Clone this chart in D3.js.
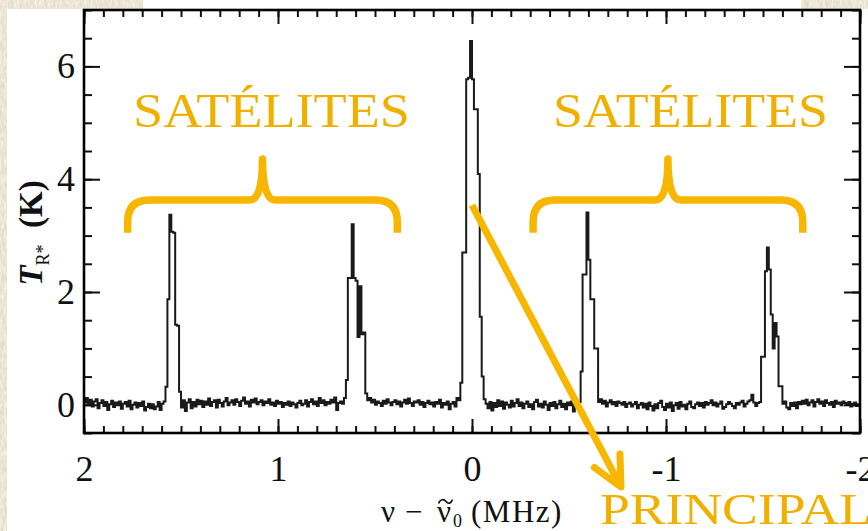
<!DOCTYPE html>
<html>
<head>
<meta charset="utf-8">
<script src="https://cdn.jsdelivr.net/npm/d3@7"></script>
<style>
  html, body { margin: 0; padding: 0; background: #fff; }
  svg { display: block; }
</style>
</head>
<body>
<svg id="chart" width="868" height="531"></svg>
<script>
// Spectrometer channel grid (offset from the line rest frequency, MHz)
const channelStart = 1.995;
const channelWidth = 0.01;

// Antenna temperature per channel (K), 400 channels from +2 to -2 MHz
const antennaTempK = [
  0.04, 0.12, 0.02, 0.09, -0.03, 0.06, 0.10, -0.06, 0.03, 0.08, -0.02, 0.05, -0.09, 0.01, 0.07, -0.04, 0.04, -0.01, 0.06, -0.07,
  0.02, 0.05, -0.03, 0.07, -0.08, 0.00, 0.04, -0.05, 0.03, -0.02, 0.06, -0.10, -0.04, 0.02, -0.06, 0.01, -0.08, -0.03, 0.05, -0.09,
  0.02, 0.06, 0.32, 1.87, 3.37, 3.07, 3.05, 1.42, 1.40, 0.23, -0.05, 0.08, -0.11, 0.04, 0.10, -0.06, 0.05, -0.03, 0.09, 0.01,
  0.07, -0.04, 0.06, 0.00, 0.11, -0.02, 0.05, 0.08, -0.05, 0.09, 0.03, -0.03, 0.06, 0.12, -0.01, 0.04, 0.08, 0.00, 0.10, 0.05,
  -0.02, 0.07, 0.13, 0.02, 0.06, -0.03, 0.09, 0.04, 0.11, 0.01, 0.05, 0.08, -0.01, 0.06, 0.03, 0.10, 0.00, 0.04, -0.02, 0.07,
  0.02, 0.05, -0.04, 0.03, 0.00, 0.06, -0.02, 0.04, 0.01, -0.05, 0.03, 0.07, -0.01, 0.02, 0.08, -0.03, 0.05, 0.10, 0.01, 0.06,
  -0.02, 0.12, 0.03, 0.08, -0.01, 0.05, 0.02, 0.09, 0.04, 0.13, -0.09, 0.03, 0.06, 0.02, 0.12, 0.44, 2.25, 2.25, 3.20, 2.25,
  2.20, 1.20, 2.10, 1.25, 1.28, 0.20, 0.08, 0.12, 0.04, 0.09, 0.00, 0.06, 0.03, -0.02, 0.07, 0.02, 0.10, 0.04, -0.01, 0.05,
  0.08, 0.01, 0.06, -0.03, 0.04, 0.09, 0.02, 0.11, 0.03, -0.02, 0.06, 0.04, 0.08, 0.00, 0.05, -0.04, 0.03, 0.07, 0.01, 0.04,
  -0.03, 0.05, 0.02, 0.09, -0.05, 0.03, 0.00, 0.06, -0.08, 0.02, 0.05, -0.03, 0.12, 0.08, 0.39, 2.70, 2.70, 5.77, 5.80, 6.45,
  5.77, 5.24, 5.24, 4.09, 1.56, 0.50, 0.10, 0.02, -0.06, 0.05, -0.10, 0.03, -0.04, 0.08, -0.02, 0.06, -0.07, 0.04, 0.00, -0.05,
  0.07, -0.03, 0.03, 0.10, -0.02, 0.04, -0.06, 0.02, 0.06, -0.04, 0.01, -0.08, 0.05, 0.09, -0.03, 0.02, -0.05, 0.06, 0.00, -0.09,
  0.03, -0.02, 0.05, -0.06, 0.01, 0.07, -0.04, 0.02, -0.08, 0.04, -0.01, 0.06, -0.12, 0.02, -0.03, 0.05, 0.59, 2.31, 2.31, 3.41,
  2.57, 1.87, 1.87, 1.00, 1.00, 0.05, 0.10, 0.02, 0.07, -0.03, 0.04, 0.08, 0.01, 0.05, -0.02, 0.06, 0.03, 0.00, 0.05, -0.04,
  0.02, 0.04, -0.03, 0.01, 0.05, -0.06, 0.00, 0.03, -0.05, 0.02, -0.08, 0.04, -0.02, -0.10, 0.01, -0.06, 0.03, 0.07, -0.04, -0.09,
  0.02, -0.05, 0.04, -0.11, -0.01, 0.03, -0.07, 0.05, -0.03, 0.00, -0.08, 0.02, 0.06, -0.04, -0.06, 0.01, 0.04, -0.02, 0.03, -0.05,
  0.05, 0.00, 0.03, 0.08, -0.01, 0.04, -0.03, 0.02, 0.06, -0.07, -0.04, 0.01, 0.05, 0.02, -0.02, -0.06, 0.03, 0.00, 0.04, 0.07,
  -0.03, 0.02, 0.06, 0.08, 0.18, 0.04, -0.02, 0.03, 0.05, 0.85, 0.85, 2.37, 2.79, 2.40, 1.60, 1.00, 1.45, 1.21, 0.33, 0.33,
  0.02, 0.06, -0.05, -0.08, 0.03, -0.02, 0.04, -0.06, 0.05, 0.01, 0.07, 0.02, 0.09, -0.01, 0.04, 0.08, -0.03, 0.05, 0.10, 0.02,
  0.06, -0.02, 0.08, 0.03, 0.00, 0.05, -0.04, 0.07, 0.02, 0.04, -0.01, 0.06, 0.03, 0.00, 0.05, -0.03, 0.02, 0.04, -0.02, 0.01
];

// Axis ticks
const xTickValues = [2, 1, 0, -1, -2];
const xTickLabels = ["2", "1", "0", "-1", "-2"];
const yTickValues = [0, 2, 4, 6];
const yTickLabels = ["0", "2", "4", "6"];

// Annotation texts
const satelliteLabel = "SATÉLITES";
const mainLineLabel = "PRINCIPAL";

// Annotation placement in data units (MHz, K)
const satelliteBraces = [
  { from: 1.775, to: 0.385, base: 3.05, bar: 3.63, tip: 4.36 },
  { from: -0.315, to: -1.705, base: 3.05, bar: 3.63, tip: 4.36 }
];
const satelliteTexts = [
  { from: 1.747, to: 0.320, baseline: 4.925 },
  { from: -0.418, to: -1.835, baseline: 4.925 }
];
const mainArrow = { from: [0.0, 3.54], to: [-0.768, -1.457] };
const mainText = { from: -0.660, to: -2.062, baseline: -2.113 };

// ---------------------------------------------------------------
const svg = d3.select("#chart");
const W = 868, H = 531;
const plot = { left: 84, right: 860, top: 10, bottom: 433 };
const serif = "'Liberation Serif', 'Times New Roman', serif";
const ink = "#111";
const gold = "#f7b600";
const goldText = "#f0b000";

// Paper backdrop with the white sheet laid over it
const defs = svg.append("defs");
const paper = defs.append("filter").attr("id", "paper")
  .attr("x", 0).attr("y", 0).attr("width", "100%").attr("height", "100%");
paper.append("feTurbulence").attr("type", "fractalNoise")
  .attr("baseFrequency", "0.45 0.12").attr("numOctaves", 3).attr("seed", 7).attr("result", "n");
paper.append("feColorMatrix").attr("in", "n").attr("type", "matrix")
  .attr("values", "0.32 0 0 0 0.68  0.32 0 0 0 0.63  0.34 0 0 0 0.50  0 0 0 0 1");

svg.append("rect").attr("width", W).attr("height", H).attr("filter", "url(#paper)");
svg.append("rect").attr("x", 7).attr("y", 9).attr("width", W - 7).attr("height", H - 9).attr("fill", "#fff");
svg.append("rect").attr("x", 143).attr("y", 0).attr("width", 658).attr("height", 10).attr("fill", "#fff");

// Scales
const x = d3.scaleLinear().domain([2, -2]).range([plot.left, plot.right]);
const y = d3.scaleLinear().domain([-0.5, 7]).range([plot.bottom, plot.top]);

defs.append("clipPath").attr("id", "plotClip").append("rect")
  .attr("x", plot.left).attr("y", plot.top)
  .attr("width", plot.right - plot.left).attr("height", plot.bottom - plot.top);

// Spectrum as a histogram-style step line
const spectrum = antennaTempK.map((t, i) => [channelStart - i * channelWidth, t]);
const line = d3.line().x(d => x(d[0])).y(d => y(d[1])).curve(d3.curveStep);
svg.append("path")
  .attr("clip-path", "url(#plotClip)")
  .attr("d", line(spectrum))
  .attr("fill", "none")
  .attr("stroke", "#1a1a1a")
  .attr("stroke-width", 2)
  .attr("stroke-linejoin", "miter");

// Axes: inward ticks on all four sides
const minorX = d3.range(-20, 21).map(k => k / 10);
const minorY = d3.range(-1, 15).map(k => k / 2);

function styleAxis(g) {
  g.select(".domain").remove();
  g.selectAll(".tick line").attr("stroke", ink).attr("stroke-width", 2);
  g.attr("font-family", serif).attr("font-size", 36);
  g.selectAll(".tick text").attr("fill", ink);
}

svg.append("g").attr("transform", `translate(0,${plot.bottom})`)
  .call(d3.axisBottom(x).tickValues(minorX).tickSize(-7).tickFormat("")).call(styleAxis);
svg.append("g").attr("transform", `translate(0,${plot.bottom})`)
  .call(d3.axisBottom(x).tickValues(xTickValues).tickSize(-14).tickPadding(22)
    .tickFormat((d, i) => xTickLabels[i])).call(styleAxis);

svg.append("g").attr("transform", `translate(0,${plot.top})`)
  .call(d3.axisTop(x).tickValues(minorX).tickSize(-7).tickFormat("")).call(styleAxis);
svg.append("g").attr("transform", `translate(0,${plot.top})`)
  .call(d3.axisTop(x).tickValues(xTickValues).tickSize(-14).tickFormat("")).call(styleAxis);

svg.append("g").attr("transform", `translate(${plot.left},0)`)
  .call(d3.axisLeft(y).tickValues(minorY).tickSize(-8).tickFormat("")).call(styleAxis);
svg.append("g").attr("transform", `translate(${plot.left},0)`)
  .call(d3.axisLeft(y).tickValues(yTickValues).tickSize(-16).tickPadding(9)
    .tickFormat((d, i) => yTickLabels[i])).call(styleAxis);

svg.append("g").attr("transform", `translate(${plot.right},0)`)
  .call(d3.axisRight(y).tickValues(minorY).tickSize(-8).tickFormat("")).call(styleAxis);
svg.append("g").attr("transform", `translate(${plot.right},0)`)
  .call(d3.axisRight(y).tickValues(yTickValues).tickSize(-16).tickFormat("")).call(styleAxis);

// Frame
svg.append("rect")
  .attr("x", plot.left).attr("y", plot.top)
  .attr("width", plot.right - plot.left).attr("height", plot.bottom - plot.top)
  .attr("fill", "none").attr("stroke", "#000").attr("stroke-width", 2.6);

// x-axis title: ν − ν̃0 (MHz)
const xTitle = svg.append("g")
  .attr("font-family", serif).attr("font-size", 31).attr("fill", ink);
xTitle.append("text").attr("x", 381).attr("y", 522).text("ν");
xTitle.append("text").attr("x", 405).attr("y", 522).text("−");
xTitle.append("text").attr("x", 437).attr("y", 522).text("ν");
// tilde accent over the second ν
xTitle.append("path")
  .attr("d", "M438.5,503.5 C440.5,498.5 444,499 446,501.5 C448,504 451,504 452.5,499.5")
  .attr("fill", "none").attr("stroke", ink).attr("stroke-width", 1.6);
xTitle.append("text").attr("x", 453).attr("y", 527).attr("font-size", 18).text("0");
xTitle.append("text").attr("x", 471).attr("y", 522).attr("letter-spacing", 1.5).text("(MHz)");

// y-axis title: T_R* (K)
const yTitle = svg.append("text")
  .attr("transform", "translate(42,233) rotate(-90)")
  .attr("text-anchor", "middle")
  .attr("font-family", serif).attr("font-size", 33).attr("font-weight", "bold").attr("fill", ink);
yTitle.append("tspan").attr("font-style", "italic").text("T");
yTitle.append("tspan").attr("font-size", 18).attr("font-weight", "normal").attr("dy", 7).text("R*");
yTitle.append("tspan").attr("dy", -7).text("\u2002(K)");

// Braces grouping the satellite hyperfine lines
function bracePath(b) {
  const x0 = x(b.from), x1 = x(b.to), xm = (x0 + x1) / 2;
  const yb = y(b.base), yh = y(b.bar), yt = y(b.tip);
  const r = 22, s = 13;
  return `M${x0},${yb} L${x0},${yh + r} Q${x0},${yh} ${x0 + r},${yh} ` +
         `L${xm - s},${yh} Q${xm},${yh} ${xm},${yt} Q${xm},${yh} ${xm + s},${yh} ` +
         `L${x1 - r},${yh} Q${x1},${yh} ${x1},${yh + r} L${x1},${yb}`;
}
svg.selectAll("path.brace").data(satelliteBraces).join("path")
  .attr("class", "brace")
  .attr("d", bracePath)
  .attr("fill", "none").attr("stroke", gold).attr("stroke-width", 7.5)
  .attr("stroke-linejoin", "round").attr("stroke-linecap", "butt");

svg.selectAll("text.sat").data(satelliteTexts).join("text")
  .attr("class", "sat")
  .attr("x", d => x(d.from)).attr("y", d => y(d.baseline))
  .attr("textLength", d => x(d.to) - x(d.from))
  .attr("lengthAdjust", "spacingAndGlyphs")
  .attr("font-family", serif).attr("font-size", 49).attr("fill", goldText)
  .text(satelliteLabel);

// Arrow pointing from the main line to its label
const p0 = [x(mainArrow.from[0]), y(mainArrow.from[1])];
const p1 = [x(mainArrow.to[0]), y(mainArrow.to[1])];
const back = Math.atan2(p0[1] - p1[1], p0[0] - p1[0]);
const armLen = 33, armAng = 26 * Math.PI / 180;
const armA = [p1[0] + armLen * Math.cos(back + armAng), p1[1] + armLen * Math.sin(back + armAng)];
const armB = [p1[0] + armLen * Math.cos(back - armAng), p1[1] + armLen * Math.sin(back - armAng)];
svg.append("path")
  .attr("d", `M${p0[0]},${p0[1]} L${p1[0]},${p1[1]}`)
  .attr("stroke", gold).attr("stroke-width", 7).attr("stroke-linecap", "butt").attr("fill", "none");
svg.append("path")
  .attr("d", `M${armA[0]},${armA[1]} L${p1[0]},${p1[1]} L${armB[0]},${armB[1]}`)
  .attr("stroke", gold).attr("stroke-width", 7).attr("stroke-linecap", "round")
  .attr("stroke-linejoin", "round").attr("fill", "none");

svg.append("text")
  .attr("x", x(mainText.from)).attr("y", y(mainText.baseline))
  .attr("textLength", x(mainText.to) - x(mainText.from))
  .attr("lengthAdjust", "spacingAndGlyphs")
  .attr("font-family", serif).attr("font-size", 45).attr("fill", goldText)
  .text(mainLineLabel);
</script>
</body>
</html>
